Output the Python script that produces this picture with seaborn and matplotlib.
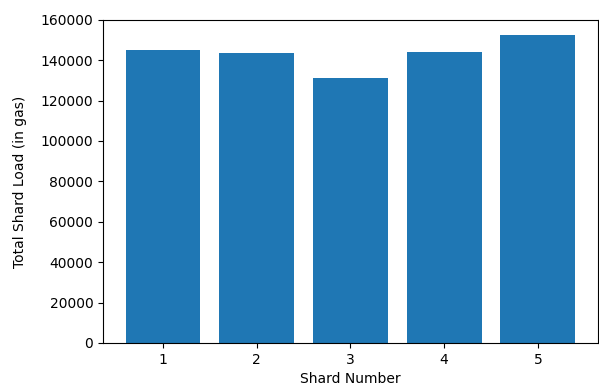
import pandas as pd
import matplotlib
matplotlib.use('Agg')
import matplotlib.pyplot as plt
import seaborn as sns

# Shard loads
shards = [1, 2, 3, 4, 5]
loads = [145000, 143650, 131100, 144300, 152550]

df = pd.DataFrame({'Shard': shards, 'Load': loads})

fig = plt.figure(figsize=(5.99, 3.88), dpi=100)
ax = fig.add_axes([0.172, 0.116, 0.826, 0.833])

sns.barplot(data=df, x='Shard', y='Load', native_scale=True, color='#1f77b4',
            saturation=1, width=0.8, linewidth=0, ax=ax)

ax.set_xlim(0.36, 5.64)
ax.set_ylim(0, 160000)
ax.set_yticks(range(0, 160001, 20000))
ax.set_xticks(shards)
ax.set_xlabel('Shard Number')
ax.set_ylabel('Total Shard Load (in gas)', labelpad=10)

fig.savefig('out.png', dpi=100)
